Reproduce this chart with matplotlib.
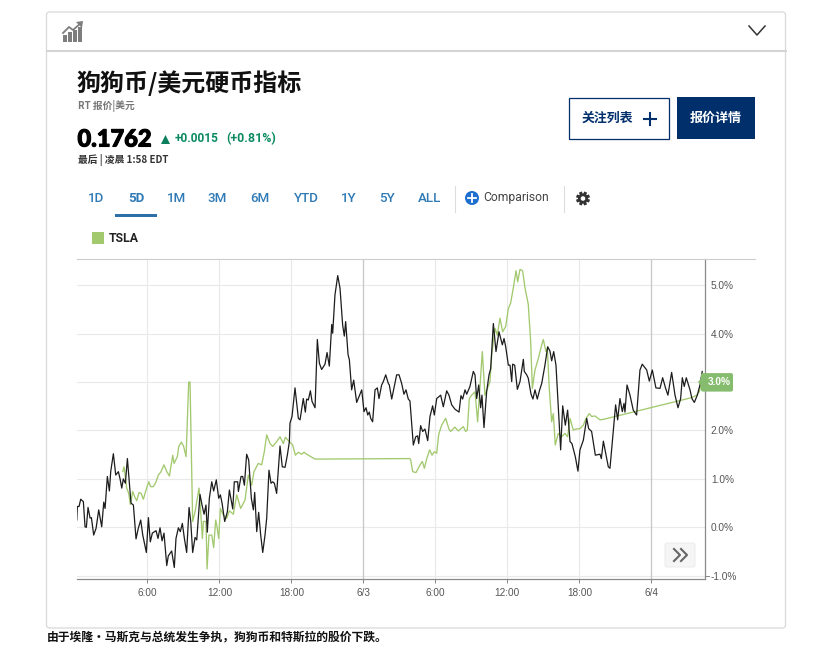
import matplotlib
matplotlib.use('Agg')
import matplotlib.pyplot as plt
import matplotlib.patheffects as pe
from matplotlib.patches import FancyBboxPatch, Rectangle, Circle, Polygon
import numpy as np

CJK = ['Noto Sans CJK SC', 'DejaVu Sans']
plt.rcParams['font.family'] = CJK

# hours since 6/2 0:00 and percent change
doge_hours = [0.11, 0.16, 0.30, 0.44, 0.66, 0.80, 0.91, 1.05, 1.22, 1.33,
              1.52, 1.72, 1.94, 2.19, 2.36, 2.47, 2.66, 2.83, 2.94, 3.16,
              3.36, 3.58, 3.72, 3.86, 3.99, 4.16, 4.33, 4.49, 4.63, 4.83,
              5.05, 5.24, 5.44, 5.61, 5.91, 6.08, 6.24, 6.41, 6.72, 6.88,
              7.05, 7.22, 7.38, 7.61, 7.74, 8.02, 8.24, 8.38, 8.58, 8.74,
              8.91, 9.08, 9.27, 9.47, 9.61, 9.77, 9.97, 10.11, 10.38, 10.55,
              10.72, 10.88, 10.99, 11.16, 11.36, 11.52, 11.74, 11.94, 12.08, 12.22,
              12.44, 12.66, 12.83, 13.11, 13.24, 13.52, 13.58, 13.80, 13.94, 14.08,
              14.27, 14.44, 14.66, 14.83, 14.94, 15.11, 15.27, 15.44, 15.61, 15.80,
              15.94, 16.13, 16.30, 16.44, 16.58, 16.77, 17.05, 17.24, 17.47, 17.66,
              17.83, 17.88,
              18.05, 18.30, 18.58, 18.72, 18.99, 19.16, 19.27, 19.41, 19.58, 19.72,
              19.97, 20.16, 20.33, 20.52, 20.80, 20.97, 21.16, 21.36, 21.44, 21.63,
              21.86, 22.05, 22.27, 22.41, 22.52, 22.72, 22.83, 23.02, 23.19, 23.44,
              23.86, 24.05, 24.22, 24.36, 24.49, 24.61, 24.77, 24.97, 25.16, 25.30,
              25.52, 25.66, 25.86, 26.08, 26.16, 26.36, 26.77, 26.97, 27.19, 27.38,
              27.55, 27.74, 27.88, 28.16, 28.36, 28.52, 28.61, 28.77, 28.94, 29.13,
              29.36, 29.55, 29.77, 29.91, 30.11, 30.44, 30.66, 30.94, 31.13, 31.36,
              31.63, 31.97, 32.13, 32.27, 32.47, 32.61, 32.88, 33.16, 33.30, 33.44,
              33.61, 33.77, 33.88, 34.05, 34.27, 34.47, 34.61, 34.83,
              35.05, 35.30, 35.58, 35.72, 35.86, 36.08, 36.22, 36.36, 36.44, 36.61,
              36.83, 37.05, 37.33, 37.41, 37.61, 37.74, 37.97, 38.13, 38.30, 38.49,
              38.69, 38.86, 39.13, 39.36, 39.55, 39.69, 39.86, 40.05, 40.22, 40.44,
              40.61, 40.83, 41.02, 41.22, 41.38, 41.66, 41.88, 42.05, 42.33, 42.61,
              42.77, 43.02, 43.33, 43.72, 43.83, 44.00, 44.19, 44.41, 44.55, 44.77,
              45.02, 45.19, 45.38, 45.58, 45.72, 45.80, 45.97, 46.22, 46.49, 46.77,
              47.05, 47.24, 47.61, 47.83, 48.08, 48.38, 48.72, 48.94, 49.19, 49.38,
              49.69, 49.97, 50.22, 50.44, 50.58, 50.74, 50.91, 51.22, 51.38, 51.58,
              51.83, 52.05, 52.24]
doge_pct = [0.15, 0.43, 0.43, 0.58, 0.53, 0.01, 0.00, 0.41, 0.19, 0.20,
            -0.16, -0.02, 0.36, 0.01, 0.52, 0.39, 1.05, 0.75, 1.15, 1.52,
            1.08, 1.15, 1.00, 0.81, 1.00, 0.91, 1.42, 0.94, 0.50, 0.46,
            -0.24, -0.02, 0.15, -0.16, -0.52, 0.20, -0.30, -0.12, -0.07, -0.23,
            -0.01, -0.28, -0.12, -0.79, -0.59, -0.49, -0.83, -0.23, -0.01, -0.09,
            0.08, -0.23, -0.52, 0.41, 0.12, -0.52, -0.21, -0.26, 0.68, 0.46,
            0.27, 0.46, -0.10, 0.60, 0.94, 0.75, 0.98, 0.60, 0.67, 0.50,
            0.12, 0.32, 0.77, 0.38, 0.94, 0.94, 0.74, 1.05, 1.05, 0.87,
            1.51, 1.39, 0.60, 0.36, 0.72, -0.09, 0.31, -0.16, -0.52, -0.16,
            0.19, 1.18, 0.91, 0.94, 0.91, 0.70, 1.68, 1.25, 1.24, 1.49,
            1.77, 2.15,
            2.29, 2.88, 2.25, 2.22, 2.66, 2.38, 2.65, 2.63, 2.82, 2.60,
            2.47, 3.88, 3.39, 3.26, 3.37, 3.61, 3.33, 4.19, 4.01, 4.80,
            5.20, 4.94, 4.18, 3.95, 4.25, 3.57, 3.46, 2.84, 3.04, 2.58,
            2.84, 2.39, 2.47, 2.32, 2.38, 2.25, 2.18, 2.84, 2.88, 2.66,
            2.94, 3.01, 3.15, 2.97, 2.94, 2.65, 3.15, 3.15, 2.97, 2.75,
            2.84, 2.65, 2.61, 1.70, 1.87, 1.89, 1.73, 2.10, 1.98, 2.03,
            1.79, 2.29, 2.51, 2.32, 2.66, 2.73, 2.49, 2.82, 2.73, 2.53,
            2.44, 2.38, 2.72, 2.65, 2.84, 2.75, 2.91, 3.22, 3.15, 2.66,
            2.94, 2.47, 2.73, 2.06, 2.80, 3.15, 3.28, 4.21,
            3.63, 4.04, 3.77, 3.90, 3.73, 3.35, 3.35, 3.01, 3.37, 3.35,
            2.85, 3.01, 3.47, 3.22, 3.15, 3.08, 2.75, 2.65, 2.84, 2.65,
            2.84, 2.97, 3.35, 3.73, 3.64, 3.44, 3.63, 3.35, 2.60, 1.60,
            2.51, 2.11, 2.42, 1.77, 1.73, 1.46, 1.16, 1.60, 1.80, 2.25,
            2.04, 1.98, 1.49, 1.51, 1.42, 1.78, 1.53, 1.25, 1.22, 1.84,
            2.53, 2.22, 2.66, 2.39, 2.56, 2.38, 2.94, 2.73, 2.42, 2.32,
            3.25, 3.37, 3.25, 3.02, 3.25, 2.88, 2.87, 3.09, 2.87, 2.73,
            3.20, 2.73, 2.47, 2.66, 3.09, 2.91, 3.09, 2.84, 2.66, 2.58,
            2.73, 2.94, 3.22]

tsla_hours = [3.95, 4.05, 4.27, 4.44, 4.58, 4.77, 4.97, 5.11, 5.30, 5.47,
              5.66, 5.88, 6.11, 6.27, 6.49, 6.72, 6.91, 7.11, 7.38, 7.61,
              7.83, 8.11, 8.22, 8.49, 8.61, 8.83, 9.02, 9.22, 9.44, 9.55,
              9.77, 9.97, 10.30, 10.44, 10.58, 10.66, 10.88, 10.97, 11.13, 11.36,
              11.52, 11.69, 11.80, 11.94, 12.08, 12.33, 12.61, 12.83, 13.16, 13.44,
              13.77, 14.13, 14.41, 14.69, 14.88, 15.24, 15.52, 15.74, 15.94, 16.22,
              16.44, 16.77, 17.05, 17.33, 17.49, 17.83,
              18.11, 18.33, 18.58, 18.86, 19.05, 19.27, 19.61, 19.97, 20.66, 27.88,
              27.94, 28.11, 28.38, 28.72, 28.91, 29.08, 29.27, 29.52, 29.72, 29.91,
              30.11, 30.27, 30.52, 30.86, 31.13, 31.27, 31.63, 31.91, 32.33, 32.52,
              32.66, 32.83, 33.02, 33.30, 33.52, 33.91, 34.13,
              34.55, 34.69, 34.97, 35.16, 35.38, 35.61, 35.86, 36.08, 36.27, 36.49,
              36.72, 36.86, 37.05, 37.27, 37.47, 37.74, 37.94, 38.08, 38.30, 38.58,
              38.86, 38.99, 39.22, 39.33, 39.49, 39.69, 39.83, 39.99, 40.24, 40.52,
              40.80, 41.02, 41.22, 41.49, 41.72, 42.05, 42.33, 42.55, 42.83, 43.02,
              43.30, 43.72, 44.00, 51.38, 51.77, 51.99, 52.24]
tsla_pct = [1.15, 1.25, 0.81, 0.70, 0.47, 0.74, 0.61, 0.55, 0.72, 0.70,
            0.58, 0.77, 0.94, 0.84, 0.84, 0.94, 1.08, 1.14, 1.29, 1.15,
            1.06, 1.49, 1.32, 1.46, 1.67, 1.76, 1.67, 1.46, 3.00, 3.00,
            0.12, 0.32, 0.81, 0.32, -0.23, 0.12, 0.12, -0.86, -0.16, -0.16,
            -0.42, 0.15, 0.01, -0.23, 0.39, 0.25, 0.19, 0.34, 0.27, 0.67,
            0.39, 0.56, 1.08, 0.87, 1.15, 1.32, 1.29, 1.56, 1.91, 1.73,
            1.67, 1.77, 1.87, 1.73, 1.86, 1.77,
            1.70, 1.49, 1.55, 1.51, 1.55, 1.51, 1.46, 1.41, 1.41, 1.42,
            1.39, 1.15, 1.13, 1.29, 1.36, 1.22, 1.41, 1.60, 1.49, 1.56,
            1.53, 1.91, 2.11, 2.25, 2.03, 1.98, 2.07, 1.99, 2.08, 1.98,
            2.01, 2.66, 2.73, 2.80, 2.18, 3.63, 2.73,
            3.01, 3.56, 4.11, 3.97, 4.32, 4.04, 4.15, 4.52, 4.63, 4.94,
            5.30, 5.07, 5.33, 5.30, 4.94, 4.61, 3.84, 2.87, 3.25, 3.49,
            3.77, 3.88, 3.63, 3.70, 2.87, 2.18, 2.35, 1.70, 1.94, 1.87,
            1.94, 1.87, 2.25, 2.01, 2.03, 2.04, 2.11, 2.25, 2.35, 2.29,
            2.30, 2.22, 2.23, 2.68, 2.73, 2.80, 3.01]

x_ticks = [6, 12, 18, 24, 30, 36, 42, 48]
x_labels = ['6:00', '12:00', '18:00', '6/3', '6:00', '12:00', '18:00', '6/4']
day_ticks = [24, 48]
y_ticks = [-1, 0, 1, 2, 3, 4, 5]
tabs = ['1D', '5D', '1M', '3M', '6M', 'YTD', '1Y', '5Y', 'ALL']
tab_centers = [96, 136, 176.5, 217.5, 260, 306, 349, 387, 430]
caption = '由于埃隆·马斯克与总统发生争执\uff0c狗狗币和特斯拉的股价下跌。'

W, H = 813, 655
NAVY = '#002f6c'
TSLA_GREEN = '#a3c96f'

fig = plt.figure(figsize=(W / 100, H / 100), dpi=100)

# chart axes, placed by pixels
left, right, top, bottom = 77, 705, 259, 579
ax = fig.add_axes([left / W, 1 - bottom / H, (right - left) / W, (bottom - top) / H])
ax.plot(tsla_hours, tsla_pct, color=TSLA_GREEN, lw=0.95, zorder=3)
ax.plot(doge_hours, doge_pct, color='#1c1c1c', lw=0.9, zorder=4)
ax.set_xlim(0.13, 52.47)
ax.set_ylim(-1.068, 5.543)
ax.set_xticks(x_ticks)
ax.set_xticklabels(x_labels, family='Liberation Sans', fontsize=7.2, color='#555555')
ax.set_yticks(y_ticks)
# the 3.0% label is the callout below, it sits over this tick
ax.set_yticklabels(['' if v == 3 else '%.1f%%' % v for v in y_ticks], family='Liberation Sans',
                   fontsize=7.3, color='#555555')
ax.yaxis.tick_right()
ax.tick_params(axis='y', length=0, pad=4.2)
ax.tick_params(axis='x', length=3, width=0.7, color='#888888', pad=3.5)
ax.grid(True, color='#e9e9e9', lw=0.8, zorder=0)
for d in day_ticks:
    ax.axvline(d, color='#c8c8c8', lw=0.9, zorder=1)
ax.set_axisbelow(True)
ax.spines['left'].set_visible(False)
ax.spines['top'].set_visible(False)
ax.spines['right'].set_color('#8a8a8a')
ax.spines['bottom'].set_color('#8a8a8a')
ax.spines['right'].set_linewidth(0.9)
ax.spines['bottom'].set_linewidth(0.9)

# page furniture, drawn in pixel coordinates on top of the chart
ui = fig.add_axes([0, 0, 1, 1], zorder=5)
ui.set_xlim(0, W)
ui.set_ylim(H, 0)
ui.axis('off')
ui.patch.set_alpha(0)

ui.add_patch(FancyBboxPatch((46.5, 12), 739, 616, boxstyle='round,pad=0,rounding_size=3',
                            fc='none', ec='#d8d8d8', lw=0.9))
ui.plot([46.5, 785.5], [51, 51], color='#d4d4d4', lw=1.5)
ui.plot([77, 755], [259, 259], color='#cccccc', lw=0.8)
ui.plot([705, 709], [576, 576], color='#888888', lw=0.7)

# header icon
for bx, bh in [(64, 7), (69, 10), (74, 12), (79, 15)]:
    ui.add_patch(Rectangle((bx - 1, 42 - bh), 3.6, bh, fc='#7d7d7d', ec='none'))
ui.plot([63, 69, 73, 81], [33, 27, 30, 23], color='#7d7d7d', lw=1.3)
ui.add_patch(Polygon([[76, 22], [83, 21], [82, 28]], fc='#7d7d7d', ec='none'))
ui.plot([749, 757, 765], [26, 35, 26], color='#333333', lw=1.1)

# title block
ui.text(77, 83, '狗狗币/美元硬币指标', fontsize=17.3, fontweight='bold', color='#111111', va='center')
ui.text(78, 106.5, 'RT 报价|美元', fontsize=7, fontweight='bold', color='#777777', va='center')
ui.text(77.5, 139, '0.1762', family='Lato', fontsize=17, fontweight='black', color='#000000', va='center',
        path_effects=[pe.withStroke(linewidth=0.8, foreground='#000000')])
ui.add_patch(Polygon([[161, 144], [170, 144], [165.5, 135]], fc='#0b7f5c', ec='none'))
ui.text(175, 139, '+0.0015', family='Roboto', fontsize=8.6, fontweight='bold', color='#0b8a62', va='center')
ui.text(226, 139, '(+0.81%)', family='Roboto', fontsize=8.9, fontweight='bold', color='#0b8a62', va='center')
ui.text(78, 160.5, '最后 | 凌晨 1:58 EDT', fontsize=7, fontweight='bold', color='#333333', va='center')

# buttons
ui.add_patch(Rectangle((568.5, 97.5), 100, 41, fc='white', ec=NAVY, lw=0.9))
ui.text(607, 117.5, '关注列表', fontsize=9.3, fontweight='bold', color=NAVY, ha='center', va='center')
ui.plot([644, 656], [118.5, 118.5], color=NAVY, lw=1.5)
ui.plot([650, 650], [112.5, 124.5], color=NAVY, lw=1.5)
ui.add_patch(Rectangle((677, 97), 78, 42, fc=NAVY, ec='none'))
ui.text(716, 117.5, '报价详情', fontsize=9.4, fontweight='bold', color='white', ha='center', va='center')

# range tabs
for name, cx in zip(tabs, tab_centers):
    ui.text(cx, 198.5, name, family='Roboto', fontsize=9.6, color='#2f7ab5', ha='center', va='center',
            fontweight='bold' if name == '5D' else 'medium')
ui.add_patch(Rectangle((115, 214), 42, 3, fc='#2f6fa8', ec='none'))
for sx in [454.5, 563.5]:
    ui.plot([sx, sx], [186, 212], color='#dddddd', lw=0.8)
ui.add_patch(Circle((472, 198), 7, fc='#1f6fd0', ec='none'))
ui.plot([468, 476], [198, 198], color='white', lw=1.3)
ui.plot([472, 472], [194, 202], color='white', lw=1.3)
ui.text(483, 197.5, 'Comparison', family='Roboto', fontsize=8.7, color='#444444', va='center')

# settings gear
for a in np.deg2rad(np.arange(0, 360, 45) + 22.5):
    ui.plot([583 + 4 * np.cos(a), 583 + 7 * np.cos(a)], [198.5 + 4 * np.sin(a), 198.5 + 7 * np.sin(a)],
            color='#333333', lw=2.2, solid_capstyle='butt')
ui.add_patch(Circle((583, 198.5), 5, fc='#333333', ec='none'))
ui.add_patch(Circle((583, 198.5), 2.3, fc='white', ec='none'))

# legend
ui.add_patch(Rectangle((92, 232), 12, 12, fc=TSLA_GREEN, ec='none'))
ui.text(109, 239, 'TSLA', family='Roboto', fontsize=8.8, fontweight='bold', color='#222222', va='center')

# last value callout on the TSLA line
fig.canvas.draw()
label_y = H - ax.transData.transform((0, 3.0))[1]
ui.add_patch(FancyBboxPatch((701, label_y - 9), 32, 18.5, boxstyle='round,pad=0,rounding_size=2',
                            fc='#86bc6e', ec='none'))
ui.add_patch(Polygon([[698, label_y], [702, label_y - 5], [702, label_y + 5]], fc='#86bc6e', ec='none'))
ui.text(719, label_y, '3.0%', family='Liberation Sans', fontsize=7.3, fontweight='bold',
        color='white', ha='center', va='center')

# scroll button
ui.add_patch(FancyBboxPatch((665, 543), 30, 24, boxstyle='round,pad=0,rounding_size=2',
                            fc='#f5f5f5', ec='#ececec', lw=0.7))
ui.plot([674, 680, 674], [549, 555, 561], color='#666666', lw=1.5)
ui.plot([681, 687, 681], [549, 555, 561], color='#666666', lw=1.5)

# caption
ui.text(47, 637.5, caption, fontsize=8.5, fontweight='bold', color='#111111', va='center')

fig.savefig('out.png', dpi=100, facecolor='white')
